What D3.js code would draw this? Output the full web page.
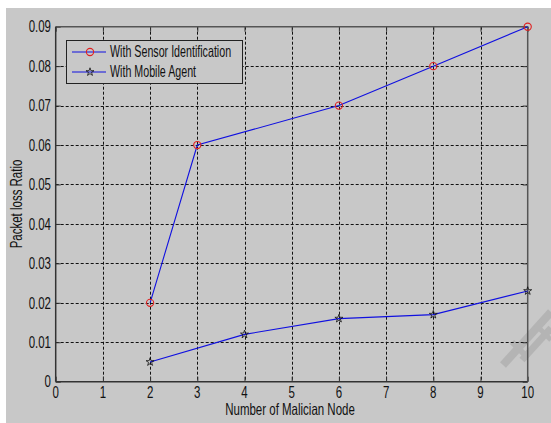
<!DOCTYPE html>
<html><head><meta charset="utf-8">
<script src="https://cdn.jsdelivr.net/npm/d3@7"></script>
<style>html,body{margin:0;padding:0;background:#fff;}svg{display:block;}text{font-family:"Liberation Sans",Arial,sans-serif;fill:#111;}</style>
</head><body>
<script>
const xSensor = [2, 3, 6, 8, 10];
const ySensor = [0.02, 0.06, 0.07, 0.08, 0.09];
const xMobile = [2, 4, 6, 8, 10];
const yMobile = [0.005, 0.012, 0.016, 0.017, 0.023];
const xTicks = [0,1,2,3,4,5,6,7,8,9,10];
const yTicks = [0,0.01,0.02,0.03,0.04,0.05,0.06,0.07,0.08,0.09];
const yTickLabels = ["0","0.01","0.02","0.03","0.04","0.05","0.06","0.07","0.08","0.09"];
const seriesNames = ["With Sensor Identification","With Mobile Agent"];
const xTitle = "Number of Malician Node";
const yTitle = "Packet loss Ratio";

const W = 551, H = 423;
const L = 55.7, R = 527.7, T = 26.7, B = 381.7;
const svg = d3.select("body").append("svg").attr("width", W).attr("height", H);
svg.append("rect").attr("x",6).attr("y",8).attr("width",W-6).attr("height",H-8).attr("fill","#c8c8c8");

// watermark
const wm = svg.append("g").attr("fill","none").attr("stroke","#b4b4b4").attr("stroke-linecap","butt");
[[503,365,551,312,8],[522,360,551,328,7],[512,342,528,358,6],[536,325,551,340,5]].forEach(s=>{
  wm.append("line").attr("x1",s[0]).attr("y1",s[1]).attr("x2",s[2]).attr("y2",s[3]).attr("stroke-width",s[4]);
});

const x = d3.scaleLinear().domain([0,10]).range([L,R]);
const y = d3.scaleLinear().domain([0,0.09]).range([B,T]);

// grid
const grid = svg.append("g").attr("stroke","#111").attr("stroke-width",1).attr("stroke-dasharray","3,2");
xTicks.slice(1,-1).forEach(t=>grid.append("line").attr("x1",Math.round(x(t))+0.5).attr("x2",Math.round(x(t))+0.5).attr("y1",T).attr("y2",B));
yTicks.slice(1,-1).forEach(t=>grid.append("line").attr("y1",Math.round(y(t))+0.5).attr("y2",Math.round(y(t))+0.5).attr("x1",L).attr("x2",R));

// axes
const ts = (g)=>{ g.selectAll("text").remove(); g.select(".domain").remove(); g.selectAll("line").attr("stroke","#333"); };
svg.append("g").attr("transform",`translate(0,${B})`).call(d3.axisBottom(x).tickValues(xTicks).tickSizeInner(-5).tickSizeOuter(0)).call(ts);
svg.append("g").attr("transform",`translate(0,${T})`).call(d3.axisTop(x).tickValues(xTicks).tickSizeInner(-5).tickSizeOuter(0)).call(ts);
svg.append("g").attr("transform",`translate(${L},0)`).call(d3.axisLeft(y).tickValues(yTicks).tickSizeInner(-5).tickSizeOuter(0)).call(ts);
svg.append("g").attr("transform",`translate(${R},0)`).call(d3.axisRight(y).tickValues(yTicks).tickSizeInner(-5).tickSizeOuter(0)).call(ts);

svg.append("line").attr("x1",L).attr("x2",R).attr("y1",T).attr("y2",T).attr("stroke","#555").attr("stroke-width",1.5);
svg.append("line").attr("x1",R).attr("x2",R).attr("y1",T).attr("y2",B).attr("stroke","#555").attr("stroke-width",1.5);
svg.append("line").attr("x1",L).attr("x2",R).attr("y1",B).attr("y2",B).attr("stroke","#333").attr("stroke-width",1.5);
svg.append("line").attr("x1",L).attr("x2",L).attr("y1",T).attr("y2",B).attr("stroke","#333").attr("stroke-width",1.5);

// tick labels (vertically stretched like the reference)
const fs = 11.5, sy = 1.38;
xTicks.forEach(t=>{
  svg.append("text").attr("transform",`translate(${x(t)},398) scale(1,${sy})`).attr("text-anchor","middle").attr("font-size",fs).text(String(t));
});
yTicks.forEach((t,i)=>{
  svg.append("text").attr("transform",`translate(51,${y(t)+5.7}) scale(1,${sy})`).attr("text-anchor","end").attr("font-size",fs).text(yTickLabels[i]);
});
svg.append("text").attr("transform",`translate(290,415) scale(1,${sy})`).attr("text-anchor","middle").attr("font-size",fs).text(xTitle);
svg.append("text").attr("transform",`translate(22,204) rotate(-90) scale(1,${sy})`).attr("text-anchor","middle").attr("font-size",fs).text(yTitle);

// lines
const line = d3.line().x(d=>x(d[0])).y(d=>y(d[1]));
const sData = xSensor.map((v,i)=>[v,ySensor[i]]);
const mData = xMobile.map((v,i)=>[v,yMobile[i]]);
svg.append("path").datum(sData).attr("d",line).attr("fill","none").attr("stroke","#1010e0").attr("stroke-width",1.1);
svg.append("path").datum(mData).attr("d",line).attr("fill","none").attr("stroke","#1010e0").attr("stroke-width",1.1);
svg.selectAll(".ms").data(sData).join("circle").attr("cx",d=>x(d[0])).attr("cy",d=>y(d[1])).attr("r",3.6).attr("fill","none").attr("stroke","#e02020").attr("stroke-width",1.1);
const star = d3.symbol().type(d3.symbolStar).size(20);
svg.selectAll(".mm").data(mData).join("path").attr("d",star).attr("transform",d=>`translate(${x(d[0])},${y(d[1])})`).attr("fill","none").attr("stroke","#111").attr("stroke-width",0.8);

// legend
const lg = svg.append("g");
lg.append("rect").attr("x",66.5).attr("y",40.5).attr("width",176).attr("height",43).attr("fill","#c8c8c8").attr("stroke","#222").attr("stroke-width",1);
[0,1].forEach(i=>{
  const yy = 52 + i*20;
  lg.append("line").attr("x1",72).attr("x2",106).attr("y1",yy).attr("y2",yy).attr("stroke","#1010e0").attr("stroke-width",1.1);
  if(i===0) lg.append("circle").attr("cx",90).attr("cy",yy).attr("r",3.6).attr("fill","none").attr("stroke","#e02020").attr("stroke-width",1.1);
  else lg.append("path").attr("d",star).attr("transform",`translate(90,${yy})`).attr("fill","none").attr("stroke","#111").attr("stroke-width",0.8);
  lg.append("text").attr("transform",`translate(110,${yy+5}) scale(0.93,${sy})`).attr("font-size",fs).text(seriesNames[i]);
});
</script>
</body></html>
